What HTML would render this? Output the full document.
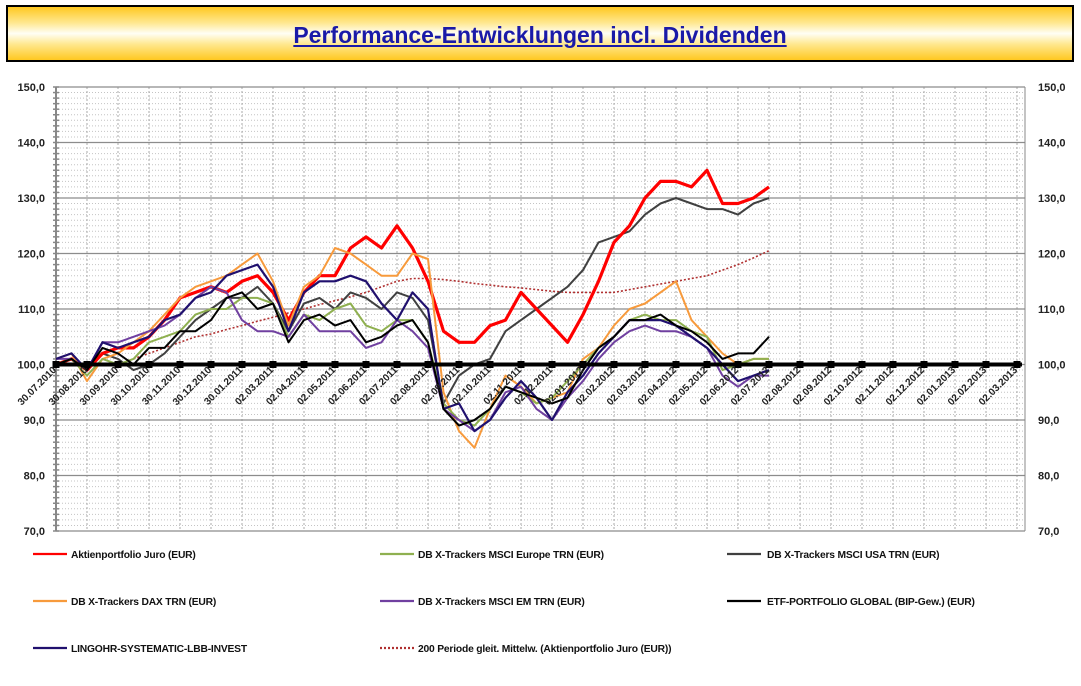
<!DOCTYPE html>
<html><head><meta charset="utf-8">
<style>
body{margin:0;background:#fff;width:1081px;height:686px;overflow:hidden;font-family:"Liberation Sans",sans-serif;}
#title{position:absolute;left:6px;top:5px;width:1064px;height:53px;border:2px solid #000;
background:linear-gradient(#ffc820 0%,#ffe890 30%,#fffef5 50%,#ffe890 70%,#ffc820 100%);
text-align:center;line-height:56px;font-weight:bold;font-size:23px;color:#1a1aa8;}
#title span{text-decoration:underline;}
svg{position:absolute;left:0;top:0;}
</style></head><body>
<div id="title"><span>Performance-Entwicklungen incl. Dividenden</span></div>
<svg id="chart" width="1081" height="686"></svg>
<script>
const categories=["30.07.2010","30.08.2010","30.09.2010","30.10.2010","30.11.2010","30.12.2010","30.01.2011","02.03.2011","02.04.2011","02.05.2011","02.06.2011","02.07.2011","02.08.2011","02.09.2011","02.10.2011","02.11.2011","02.12.2011","02.01.2012","02.02.2012","02.03.2012","02.04.2012","02.05.2012","02.06.2012","02.07.2012","02.08.2012","02.09.2012","02.10.2012","02.11.2012","02.12.2012","02.01.2013","02.02.2013","02.03.2013"];
const yTicks=[70,80,90,100,110,120,130,140,150];
const yTickLabels=["70,0","80,0","90,0","100,0","110,0","120,0","130,0","140,0","150,0"];
const juro=[100,101,99,102,103,103,105,108,112,113,114,113,115,116,113,108,113,116,116,121,123,121,125,121,115,106,104,104,107,108,113,110,107,104,109,115,122,125,130,133,133,132,135,129,129,130,132];
const europe=[100,101,98,101,100,101,104,105,106,109,110,110,112,112,111,105,109,108,110,111,107,106,108,108,104,93,90,89,92,96,95,93,94,97,100,103,105,108,109,108,108,106,105,99,100,101,101];
const usa=[100,101,99,102,101,99,100,102,105,108,110,112,112,114,111,106,111,112,110,113,112,110,113,112,108,93,98,100,101,106,108,110,112,114,117,122,123,124,127,129,130,129,128,128,127,129,130];
const dax=[101,102,97,101,102,104,106,109,112,114,115,116,118,120,115,107,114,116,121,120,118,116,116,120,119,95,88,85,92,98,96,93,94,95,101,103,107,110,111,113,115,108,105,102,100,101,101];
const em=[101,101,99,104,104,105,106,107,109,112,114,113,108,106,106,105,109,106,106,106,103,104,108,106,103,92,90,88,90,95,96,92,90,94,97,101,104,106,107,106,106,105,103,98,96,98,98];
const etf=[100,101,99,103,102,100,103,103,106,106,108,112,113,110,111,104,108,109,107,108,104,105,107,108,104,92,89,90,92,96,95,94,93,94,99,103,105,108,108,109,107,106,104,101,102,102,105];
const lingohr=[101,102,99,104,103,104,105,108,109,112,113,116,117,118,114,106,113,115,115,116,115,111,108,113,110,92,93,88,90,94,97,94,90,95,98,102,105,108,108,108,107,105,103,100,97,98,99];
const movAvg=[null,null,null,null,null,101,102,103,104,105,105.5,106.3,107,107.8,108.5,109.3,110,110.8,111.5,112.2,113,114,115,115.5,115.5,115.3,115,114.6,114.3,114,113.8,113.5,113.2,113,113,113,113,113.5,114,114.5,115,115.5,116,117,118,119.2,120.5];
const baseline=categories.map(()=>100);

const NS="http://www.w3.org/2000/svg";
const svg=document.getElementById('chart');
const X0=56,DX=31,XR=1025,YT=87,YB=531,YMIN=70,YMAX=150;
function xMonth(k){return X0+DX*k;}
function xPt(j){return X0+DX*j/2;}
function yv(v){return YB-(v-YMIN)/(YMAX-YMIN)*(YB-YT);}
function mk(tag,attrs,parent){const e=document.createElementNS(NS,tag);for(const k in attrs)e.setAttribute(k,attrs[k]);(parent||svg).appendChild(e);return e;}

const grid=mk('g',{});


for(let v=YMIN;v<=YMAX;v+=1){
  if(v%10===0)continue;
  mk('line',{x1:X0,x2:XR,y1:yv(v),y2:yv(v),stroke:'#c4c4c4','stroke-width':1,'stroke-dasharray':'1,2'},grid);
}
categories.forEach((c,k)=>{
  mk('line',{x1:xMonth(k),x2:xMonth(k),y1:YT,y2:YB,stroke:'#aaa','stroke-width':1,'stroke-dasharray':'2,2'},grid);
});
yTicks.forEach(v=>{
  mk('line',{x1:X0,x2:XR,y1:yv(v),y2:yv(v),stroke:'#8c8c8c','stroke-width':1.3},grid);
});
const ax=mk('line',{x1:X0,x2:X0,y1:YT,y2:YB,stroke:'#888','stroke-width':2});


for(let v=YMIN;v<=YMAX;v+=1){mk('line',{x1:X0-3,x2:X0+3,y1:yv(v),y2:yv(v),stroke:'#888','stroke-width':1.5});}
const axr=mk('line',{x1:XR,x2:XR,y1:YT,y2:YB,stroke:'#888','stroke-width':1});



yTicks.forEach((v,i)=>{
  const t=mk('text',{x:45,y:yv(v)+4,'text-anchor':'end','font-size':11,'font-weight':'bold',fill:'#222'});
  t.textContent=yTickLabels[i];
  
  
  const t2=mk('text',{x:1038,y:yv(v)+4,'font-size':11,'font-weight':'bold',fill:'#222'});
  t2.textContent=yTickLabels[i];
  
  
});

function line(vals,color,w,name,dash){
  let d='',pen=false;
  vals.forEach((v,j)=>{if(v==null){pen=false;return;}d+=(pen?'L':'M')+xPt(j).toFixed(1)+','+yv(v).toFixed(1);pen=true;});
  const p=mk('path',{d:d,fill:'none',stroke:color,'stroke-width':w,'stroke-linejoin':'round'});
  if(dash)p.setAttribute('stroke-dasharray',dash);
  
  
}
line(movAvg,'#b03030',1.6,'line-moving-average','2,2');
line(usa,'#404040',2,'line-msci-usa');
line(juro,'#ff0000',3.2,'line-aktienportfolio-juro');
line(dax,'#f79a3c',2,'line-dax');
line(europe,'#8fb050',2,'line-msci-europe');
line(em,'#7040a0',2,'line-msci-em');
line(lingohr,'#20106e',2.2,'line-lingohr');
line(etf,'#000',2,'line-etf-portfolio');

const bl=mk('line',{x1:X0,x2:XR-3,y1:yv(100),y2:yv(100),stroke:'#000','stroke-width':4});


baseline.forEach((v,k)=>{
  const r=mk('rect',{x:xMonth(k)-3.5,y:yv(v)-3.5,width:7,height:7,fill:'#000'});
  
  
});
categories.forEach((c,k)=>{
  const x=xMonth(k)+1,y=yv(100)+6;
  const t=mk('text',{x:x,y:y,'text-anchor':'end','font-size':10,'font-weight':'bold',fill:'#222',transform:`rotate(-45 ${x} ${y})`});
  t.textContent=c;
  
  
});

const legend=[["Aktienportfolio Juro (EUR)",'#ff0000',33,554,null],["DB X-Trackers MSCI Europe TRN (EUR)",'#8fb050',380,554,null],["DB X-Trackers MSCI USA TRN (EUR)",'#404040',727,554,null],
["DB X-Trackers DAX TRN (EUR)",'#f79a3c',33,601,null],["DB X-Trackers  MSCI EM TRN (EUR)",'#7040a0',380,601,null],["ETF-PORTFOLIO GLOBAL (BIP-Gew.) (EUR)",'#000',727,601,null],
["LINGOHR-SYSTEMATIC-LBB-INVEST",'#20106e',33,648,null],["200 Periode gleit. Mittelw. (Aktienportfolio Juro (EUR))",'#b03030',380,648,'2,2']];
legend.forEach(l=>{
  const g=mk('g',{});
  
  
  const ln=mk('line',{x1:l[2],x2:l[2]+34,y1:l[3],y2:l[3],stroke:l[1],'stroke-width':2.2},g);
  if(l[4])ln.setAttribute('stroke-dasharray',l[4]);
  const t=mk('text',{x:l[2]+(l[2]===727?40:38),y:l[3]+4,'font-size':10.3,'font-weight':'bold',fill:'#111','letter-spacing':'-0.2'},g);
  t.textContent=l[0];
});
</script>
</body></html>
